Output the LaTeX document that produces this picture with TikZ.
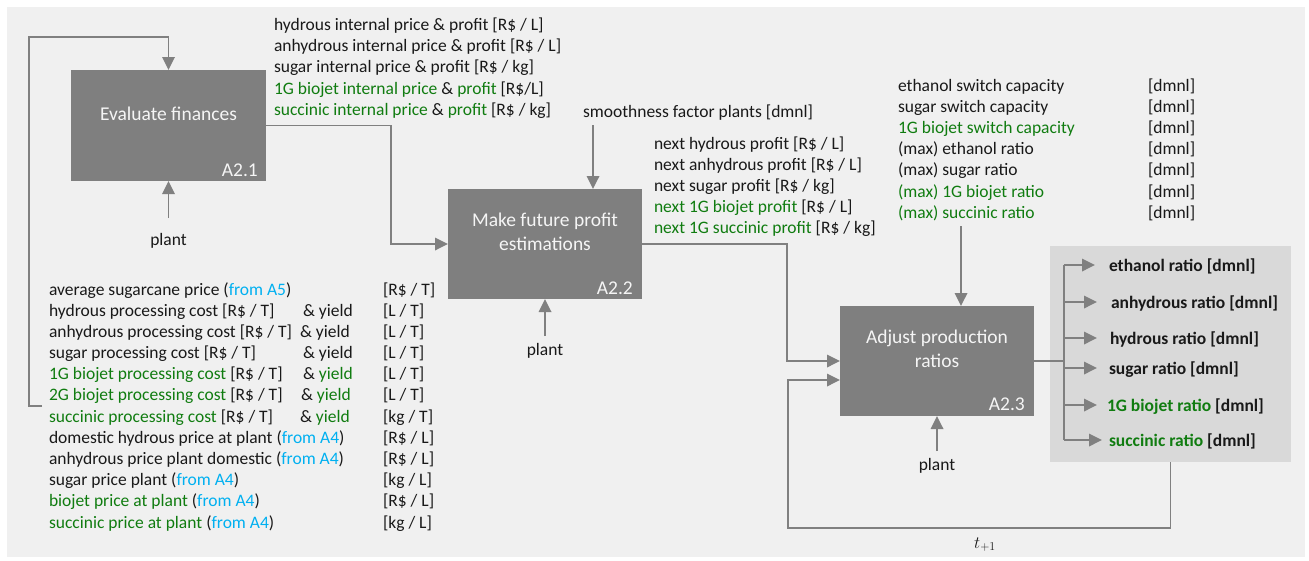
\documentclass[tikz,border=0pt]{standalone}
\usepackage{fontspec}
\setmainfont{Carlito}
\usetikzlibrary{arrows.meta}

\definecolor{bgc}{RGB}{240,240,240}
\definecolor{boxc}{RGB}{127,127,127}
\definecolor{outc}{RGB}{217,217,217}
\definecolor{linec}{RGB}{128,128,128}
\definecolor{boxtxt}{RGB}{245,245,245}
\definecolor{ink}{RGB}{25,25,25}
\definecolor{grn}{RGB}{16,124,16}
\definecolor{blu}{RGB}{0,176,240}

\newcommand{\ingrn}[1]{\textcolor{grn}{#1}}
\newcommand{\inblu}[1]{\textcolor{blu}{#1}}

\begin{document}
\begin{tikzpicture}[x=1pt,y=-1pt,
  procbox/.style={fill=boxc, draw=none, inner sep=0pt, outer sep=0pt},
  outbox/.style={fill=outc, draw=none, inner sep=0pt, outer sep=0pt},
  ttl/.style={anchor=base, inner sep=0pt, text=boxtxt, font=\fontsize{19.5}{23}\selectfont},
  tag/.style={anchor=base east, inner sep=0pt, text=boxtxt, font=\fontsize{19.5}{23}\selectfont},
  txt/.style={anchor=base west, inner sep=0pt, outer sep=0pt, text=ink, font=\fontsize{17.5}{21}\selectfont},
  ctxt/.style={txt, anchor=base},
  btxt/.style={txt, font=\fontsize{17.5}{21}\selectfont\bfseries},
  line/.style={draw=linec, line width=1.8pt},
  conn/.style={line, -{Triangle[length=13pt,width=12.5pt]}}
]
\useasboundingbox (0,0) rectangle (1309,560);
\fill[bgc] (7,7) rectangle (1305,557);

% ---- activity boxes ----
\node[procbox, minimum width=195pt, minimum height=111pt] (a21) at (168.5,125.5) {};
\node[procbox, minimum width=194pt, minimum height=110pt] (a22) at (545,244) {};
\node[procbox, minimum width=194pt, minimum height=110pt] (a23) at (937,361) {};
\node[outbox, minimum width=241pt, minimum height=216pt] (obox) at (1170.5,354) {};

\node[ttl] (t21) at (168.5,120) {Evaluate finances};
\node[ttl] (t22a) at (545,226) {Make future profit};
\node[ttl] (t22b) at (545,250) {estimations};
\node[ttl] (t23a) at (937,343) {Adjust production};
\node[ttl] (t23b) at (937,367) {ratios};
\node[tag] (g21) at (258,176) {A2.1};
\node[tag] (g22) at (633,294) {A2.2};
\node[tag] (g23) at (1025,410) {A2.3};

% ---- outputs of A2.1 ----
\node[txt] (f1) at (274,30.7) {hydrous internal price \& profit [R\$ / L]};
\node[txt] (f2) at (274,51.7) {anhydrous internal price \& profit [R\$ / L]};
\node[txt] (f3) at (274,72.7) {sugar internal price \& profit [R\$ / kg]};
\node[txt] (f4) at (274,94) {\ingrn{1G biojet internal price} \& \ingrn{profit} [R\$/L]};
\node[txt] (f5) at (274,115) {\ingrn{succinic internal price} \& \ingrn{profit} [R\$ / kg]};

% ---- inputs to A2.1 ----
\node[txt] (i1) at (49,295) {average sugarcane price (\inblu{from A5})};
\node[txt] (i2) at (49,316.2) {hydrous processing cost [R\$ / T]};
\node[txt] (i3) at (49,337.4) {anhydrous processing cost [R\$ / T]};
\node[txt] (i4) at (49,358.5) {sugar processing cost [R\$ / T]};
\node[txt] (i5) at (49,379.7) {\ingrn{1G biojet processing cost} [R\$ / T]};
\node[txt] (i6) at (49,400.9) {\ingrn{2G biojet processing cost} [R\$ / T]};
\node[txt] (i7) at (49,422.1) {\ingrn{succinic processing cost} [R\$ / T]};
\node[txt] (i8) at (49,443.3) {domestic hydrous price at plant (\inblu{from A4})};
\node[txt] (i9) at (49,464.5) {anhydrous price plant domestic (\inblu{from A4})};
\node[txt] (i10) at (49,485.6) {sugar price plant (\inblu{from A4})};
\node[txt] (i11) at (49,506.8) {\ingrn{biojet price at plant} (\inblu{from A4})};
\node[txt] (i12) at (49,528) {\ingrn{succinic price at plant} (\inblu{from A4})};

\node[txt] (y2) at (303,316.2) {\& yield};
\node[txt] (y3) at (300,337.4) {\& yield};
\node[txt] (y4) at (303,358.5) {\& yield};
\node[txt] (y5) at (303,379.7) {\& \ingrn{yield}};
\node[txt] (y6) at (301,400.9) {\& \ingrn{yield}};
\node[txt] (y7) at (300,422.1) {\& \ingrn{yield}};

\node[txt] (u1) at (383,295) {[R\$ / T]};
\node[txt] (u2) at (383,316.2) {[L / T]};
\node[txt] (u3) at (383,337.4) {[L / T]};
\node[txt] (u4) at (383,358.5) {[L / T]};
\node[txt] (u5) at (383,379.7) {[L / T]};
\node[txt] (u6) at (383,400.9) {[L / T]};
\node[txt] (u7) at (383,422.1) {[kg / T]};
\node[txt] (u8) at (383,443.3) {[R\$ / L]};
\node[txt] (u9) at (383,464.5) {[R\$ / L]};
\node[txt] (u10) at (383,485.6) {[kg / L]};
\node[txt] (u11) at (383,506.8) {[R\$ / L]};
\node[txt] (u12) at (383,528) {[kg / L]};

% ---- A2.2 control and outputs ----
\node[txt] (sm) at (583,117) {smoothness factor plants [dmnl]};
\node[txt] (n1) at (654,149) {next hydrous profit [R\$ / L]};
\node[txt] (n2) at (654,170) {next anhydrous profit [R\$ / L]};
\node[txt] (n3) at (654,191) {next sugar profit [R\$ / kg]};
\node[txt] (n4) at (654,212) {\ingrn{next 1G biojet profit} [R\$ / L]};
\node[txt] (n5) at (654,233) {\ingrn{next 1G succinic profit} [R\$ / kg]};

% ---- A2.3 controls ----
\node[txt] (c1) at (898,91.7) {ethanol switch capacity};
\node[txt] (c2) at (898,112.8) {sugar switch capacity};
\node[txt] (c3) at (898,133.8) {\ingrn{1G biojet switch capacity}};
\node[txt] (c4) at (898,154.9) {(max) ethanol ratio};
\node[txt] (c5) at (898,175.9) {(max) sugar ratio};
\node[txt] (c6) at (898,197) {\ingrn{(max) 1G biojet ratio}};
\node[txt] (c7) at (898,218) {\ingrn{(max) succinic ratio}};
\foreach \k/\yy in {1/91.7,2/112.8,3/133.8,4/154.9,5/175.9,6/197,7/218}
  \node[txt] (cu\k) at (1148,\yy) {[dmnl]};

% ---- mechanisms ----
\node[ctxt] (p21) at (168.5,245.5) {plant};
\node[ctxt] (p22) at (545,355) {plant};
\node[ctxt] (p23) at (937,470) {plant};

% ---- A2.3 outputs ----
\node[btxt] (r1) at (1109,271) {ethanol ratio [dmnl]};
\node[btxt] (r2) at (1111,308) {anhydrous ratio [dmnl]};
\node[btxt] (r3) at (1110,344) {hydrous ratio [dmnl]};
\node[btxt] (r4) at (1109,374) {sugar ratio [dmnl]};
\node[btxt] (r5) at (1107,411) {\ingrn{1G biojet ratio} [dmnl]};
\node[btxt] (r6) at (1109,446) {\ingrn{succinic ratio} [dmnl]};

\node[ctxt] (tnext) at (985,548) {$t_{+1}$};

% ---- connector routing points ----
\coordinate (fb0) at (42,406);
\coordinate (fb1) at (29,37);
\coordinate (k1) at (391,244);
\coordinate (k2) at (787,361);
\coordinate (k3) at (788,528);
\coordinate (dx) at (1064,0);
\coordinate (smtop) at (593,125);
\coordinate (ctop) at (961,226);
\coordinate (pb21) at (168.5,218);
\coordinate (pb22) at (545,336);
\coordinate (pb23) at (937,451);

% inputs into A2.1 from the left
\draw[conn] (fb0) -| (fb1) -| (a21.north);
% A2.1 -> A2.2
\draw[conn] (a21.east) -| (k1) -- (a22.west);
% A2.2 -> A2.3
\draw[conn] (a22.east) -| (k2) -- (a23.west);
% next step feedback
\draw[conn] (obox.south) |- (k3) |- ([yshift=-19pt]a23.west);
% controls
\draw[conn] (smtop) -- (smtop |- a22.north);
\draw[conn] (ctop) -- (ctop |- a23.north);
% mechanisms
\draw[conn] (pb21) -- (a21.south);
\draw[conn] (pb22) -- (a22.south);
\draw[conn] (pb23) -- (a23.south);

% output distributor
\coordinate (e1) at ([xshift=-14pt,yshift=6pt]r1.base west);
\coordinate (e2) at ([xshift=-14pt,yshift=6pt]r2.base west);
\coordinate (e3) at ([xshift=-13pt,yshift=6pt]r3.base west);
\coordinate (e4) at ([xshift=-12pt,yshift=6pt]r4.base west);
\coordinate (e5) at ([xshift=-10pt,yshift=6pt]r5.base west);
\coordinate (e6) at ([xshift=-7pt,yshift=6pt]r6.base west);
\draw[line] (a23.east) -- (a23.east -| dx);
\draw[line] (dx |- e1) -- (dx |- e6);
\foreach \k in {1,...,6}
  \draw[conn] (dx |- e\k) -- (e\k);
\end{tikzpicture}
\end{document}
